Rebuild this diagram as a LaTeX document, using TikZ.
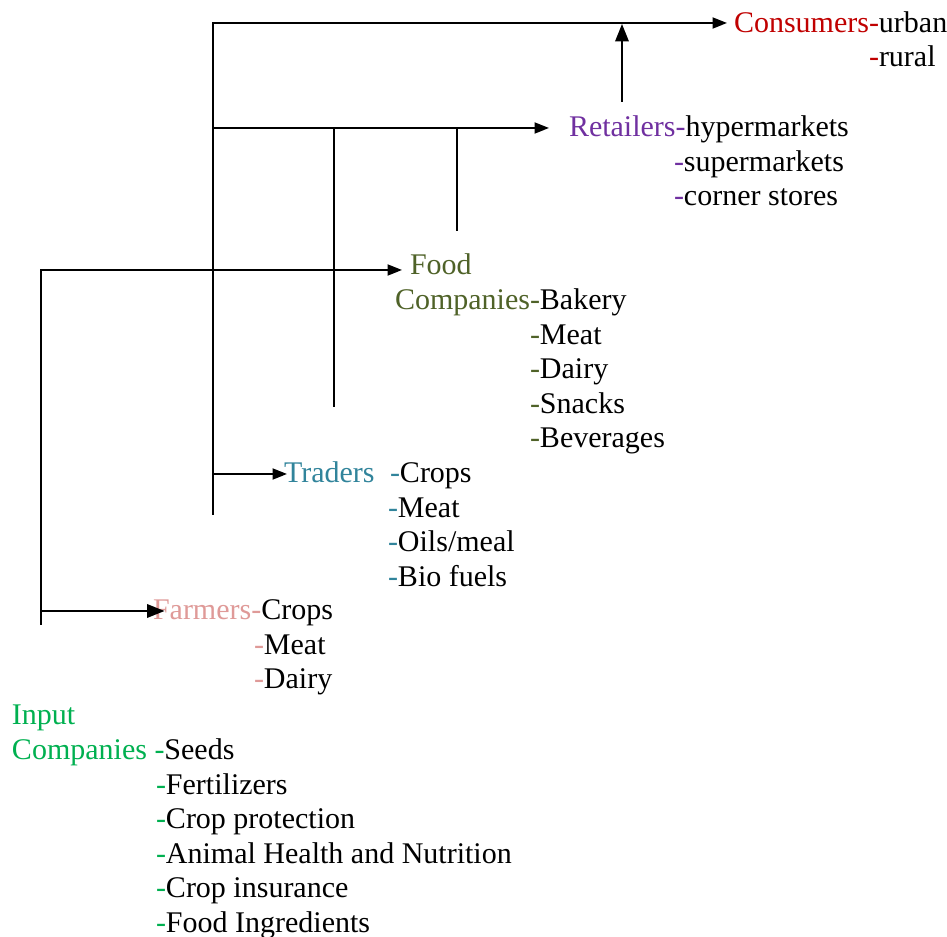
\documentclass[tikz,border=0pt]{standalone}
\usepackage{fontspec}
\setmainfont{Liberation Serif}
\usepackage{xcolor}
\usepackage{tikz}
\usetikzlibrary{arrows.meta,calc}

\definecolor{consc}{HTML}{C00000}
\definecolor{retc}{HTML}{7030A0}
\definecolor{foodc}{HTML}{4F6228}
\definecolor{tradc}{HTML}{31849B}
\definecolor{farmc}{HTML}{DF9A98}
\definecolor{inpc}{HTML}{00B050}

\tikzset{
	lbl/.style={anchor=west,inner sep=0pt,text height=8.5pt,text depth=1.3pt,
		font=\fontsize{12}{13.8}\selectfont},
	arr/.style={-{Triangle[length=5.8pt,width=4.4pt]}},
	bigarr/.style={-{Triangle[length=7pt,width=5.4pt]}},
}

\begin{document}
\begin{tikzpicture}[x=0.4pt,y=-0.4pt,line width=0.8pt]
	\useasboundingbox (0,0) rectangle (947,937);

	% heads
	\node[lbl] (cons) at (733,23.5) {\textcolor{consc}{Consumers-}urban};
	\node[lbl] (ret) at (568,127.5) {\textcolor{retc}{Retailers-}hypermarkets};
	\node[lbl] (food) at (409,265.5) {\textcolor{foodc}{Food}};
	\node[lbl] (foodco) at (394,300.5) {\textcolor{foodc}{Companies-}Bakery};
	\node[lbl] (trad) at (283,473.5) {\textcolor{tradc}{Traders}};
	\node[lbl] (tradcr) at (389,473.5) {\textcolor{tradc}{-}Crops};
	\node[lbl] (farm) at (152,610.5) {\textcolor{farmc}{Farmers-}Crops};
	\node[lbl] (inp) at (11,715.5) {\textcolor{inpc}{Input}};
	\node[lbl] (inpco) at (11,750.5) {\textcolor{inpc}{Companies -}Seeds};

	% sub lists
	\node[lbl] (cons-1) at (868,58) {\textcolor{consc}{-}rural};
	\foreach \t [count=\i] in {supermarkets,corner stores}
		\node[lbl] (ret-\i) at (673,127.5+34.6*\i) {\textcolor{retc}{-}\t};
	\foreach \t [count=\i] in {Meat,Dairy,Snacks,Beverages}
		\node[lbl] (food-\i) at (529,300.5+34.6*\i) {\textcolor{foodc}{-}\t};
	\foreach \t [count=\i] in {Meat,Oils/meal,Bio fuels}
		\node[lbl] (trad-\i) at (387,473.5+34.6*\i) {\textcolor{tradc}{-}\t};
	\foreach \t [count=\i] in {Meat,Dairy}
		\node[lbl] (farm-\i) at (253,610.5+34.6*\i) {\textcolor{farmc}{-}\t};
	\foreach \t [count=\i] in {Fertilizers,Crop protection,Animal Health and Nutrition,Crop insurance,Food Ingredients}
		\node[lbl] (inp-\i) at (155,750.5+34.6*\i) {\textcolor{inpc}{-}\t};

	% trunks
	\coordinate (inTop) at (41,270);
	\coordinate (inFarm) at (41,611);
	\coordinate (inBot) at (41,625);
	\coordinate (trTop) at (213,23);
	\coordinate (trRet) at (213,128);
	\coordinate (trTrd) at (213,474);
	\coordinate (trBot) at (213,515);
	\coordinate (tdTop) at (334,128);
	\coordinate (tdBot) at (334,407);
	\coordinate (fdTop) at (457,128);
	\coordinate (fdBot) at (457,231);
	\coordinate (rtBot) at (622,102);
	\coordinate (rtTop) at (622,23);

	\draw[arr,shorten >=2.8pt] (inBot) -- (inTop) -- (inTop -| food.west);
	\draw[bigarr,shorten >=-5pt] (inFarm) -- (inFarm -| farm.west);
	\draw[arr,shorten >=2.4pt] (trBot) -- (trTop) -- (trTop -| cons.west);
	\draw[arr,shorten >=7.6pt] (trRet) -- (trRet -| ret.west);
	\draw[arr,shorten >=-1.6pt] (trTrd) -- (trTrd -| trad.west);
	\draw (tdBot) -- (tdTop);
	\draw (fdBot) -- (fdTop);
	\draw[bigarr,shorten >=0.4pt] (rtBot) -- (rtTop);
\end{tikzpicture}
\end{document}
